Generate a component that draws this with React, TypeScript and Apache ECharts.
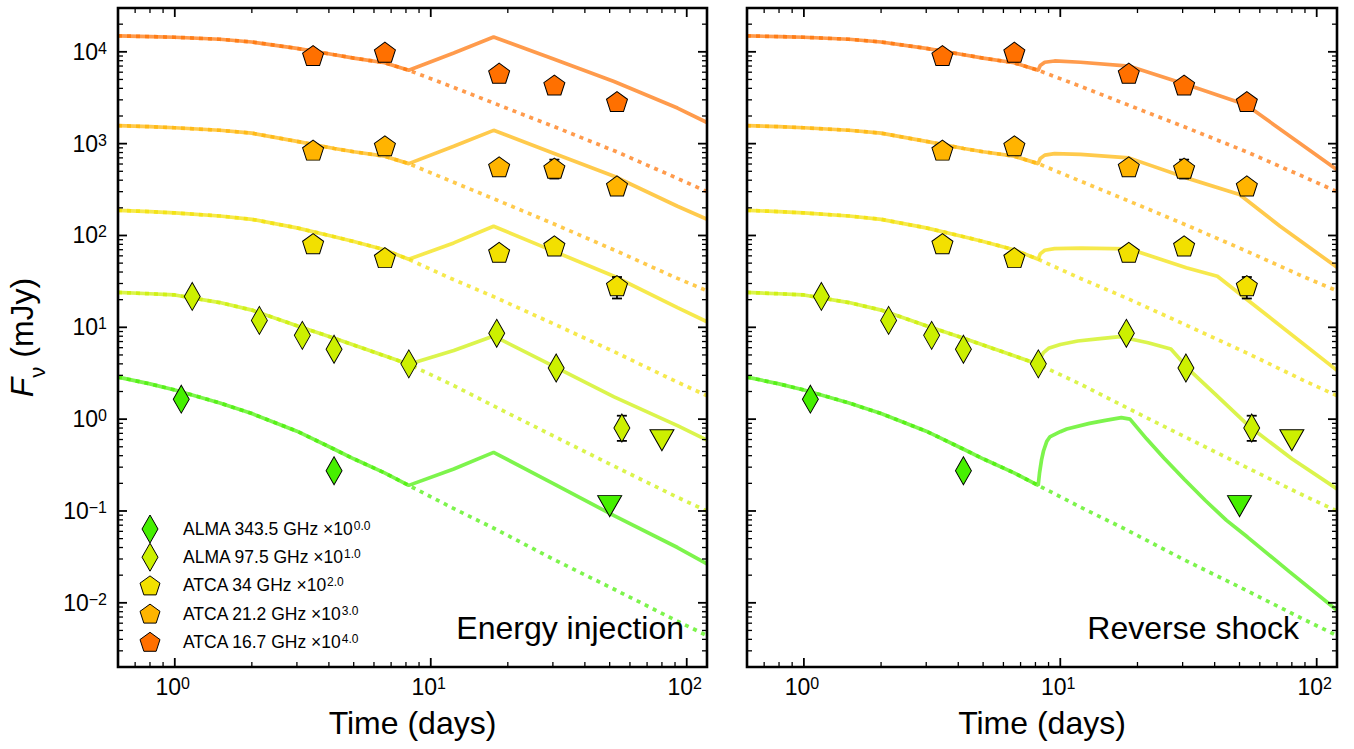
import React, { useEffect, useRef } from 'react';
import * as echarts from 'echarts';

const FONT = '"Liberation Sans", Arial, Helvetica, sans-serif';

// axis ranges
const X_MIN = 0.6;
const X_MAX = 120;
const Y_MIN = 0.002;
const Y_MAX = 30000;

// tick positions and labels
const X_MAJOR_TICKS = [1, 10, 100];
const X_TICK_LABELS = ['0', '1', '2'];
const X_MINOR_TICKS = [0.7, 0.8, 0.9, 2, 3, 4, 5, 6, 7, 8, 9, 20, 30, 40, 50, 60, 70, 80, 90];
const Y_MAJOR_TICKS = [0.01, 0.1, 1, 10, 100, 1000, 10000];
const Y_TICK_LABELS = ['\u22122', '\u22121', '0', '1', '2', '3', '4'];
const Y_MINOR_TICKS = [
  0.003, 0.004, 0.005, 0.006, 0.007, 0.008, 0.009,
  0.02, 0.03, 0.04, 0.05, 0.06, 0.07, 0.08, 0.09,
  0.2, 0.3, 0.4, 0.5, 0.6, 0.7, 0.8, 0.9,
  2, 3, 4, 5, 6, 7, 8, 9,
  20, 30, 40, 50, 60, 70, 80, 90,
  200, 300, 400, 500, 600, 700, 800, 900,
  2000, 3000, 4000, 5000, 6000, 7000, 8000, 9000,
  20000,
];

// bands (legend order)
const BAND_NAMES = ['ALMA 343.5 GHz', 'ALMA 97.5 GHz', 'ATCA 34 GHz', 'ATCA 21.2 GHz', 'ATCA 16.7 GHz'];
const BAND_FACTORS = ['0.0', '1.0', '2.0', '3.0', '4.0'];
const BAND_COLORS = ['#46f000', '#ccf000', '#f2e000', '#ffb400', '#ff7000'];
const BAND_SHAPES = ['diamond', 'diamond', 'pentagon', 'pentagon', 'pentagon'];

// observations [time (days), scaled flux (mJy)]
const OBS_343 = [[1.06, 1.65], [4.19, 0.274]];
const OBS_97 = [[1.17, 21.7], [2.14, 11.9], [3.15, 8.17], [4.19, 5.77], [8.21, 4.0], [18.1, 8.6], [30.9, 3.6], [55.8, 0.80]];
const OBS_34 = [[3.47, 81.5], [6.62, 57.4], [18.5, 65.5], [30.4, 77], [53.4, 28.4]];
const OBS_21 = [[3.47, 850], [6.62, 948], [18.5, 560], [30.4, 540], [53.4, 346]];
const OBS_16 = [[3.47, 9100], [6.62, 9900], [18.5, 5850], [30.4, 4350], [53.4, 2870]];
const LIMIT_343 = [[50, 0.113]];
const LIMIT_97 = [[80, 0.59]];
// error bars [time, flux, low, high]
const ERRORS = [[30.4, 540, 417, 670], [53.4, 28.4, 20.6, 35.3], [55.8, 0.80, 0.58, 1.09]];

// baseline model, early part (shared by both panels)
const EARLY_T = [0.6, 0.8, 1, 1.5, 2, 3, 4.2, 5, 6.6, 8.2];
const EARLY_343 = [2.87, 2.42, 2.08, 1.5, 1.15, 0.74, 0.47, 0.37, 0.26, 0.19];
const EARLY_97 = [24, 23.2, 22.5, 18.6, 15.4, 10.4, 7.6, 6.4, 4.9, 3.96];
const EARLY_34 = [188, 182, 176, 163, 150, 121, 97, 86, 70, 55];
const EARLY_21 = [1570, 1530, 1490, 1400, 1300, 1060, 885, 817, 730, 606];
const EARLY_16 = [14900, 14650, 14400, 13700, 12800, 10900, 9300, 8550, 7600, 6300];

// baseline model, late continuation (dotted)
const LATE_T = [8.2, 12, 18, 30, 53, 90, 120];
const LATE_343 = [0.19, 0.11, 0.063, 0.03, 0.0137, 0.0065, 0.0044];
const LATE_97 = [3.96, 2.4, 1.35, 0.66, 0.3, 0.145, 0.1];
const LATE_34 = [55, 34, 21, 11, 5.3, 2.6, 1.8];
const LATE_21 = [606, 390, 245, 135, 68, 35, 25];
const LATE_16 = [6300, 4200, 2700, 1550, 820, 430, 300];

// energy injection model (left panel, solid)
const INJ_T = [8.2, 12.3, 17.6, 30, 52, 92, 120];
const INJ_343 = [0.19, 0.287, 0.435, 0.2, 0.089, 0.04, 0.0266];
const INJ_97 = [3.96, 5.6, 8.05, 3.8, 1.75, 0.85, 0.59];
const INJ_34 = [55, 83, 126, 68, 36, 16.4, 11.5];
const INJ_21 = [606, 935, 1396, 792, 442, 208, 150];
const INJ_16 = [6300, 9700, 14500, 8400, 4750, 2440, 1700];

// reverse shock model (right panel, solid) [time, flux]
const RS_343 = [[8.2, 0.19], [8.3, 0.26], [8.45, 0.36], [8.6, 0.45], [8.85, 0.57], [9.1, 0.64], [10, 0.73], [10.6, 0.78], [13, 0.9], [15, 0.97], [17.3, 1.04], [18.7, 1.0], [21.7, 0.61], [25.3, 0.38], [30.5, 0.22], [36.8, 0.13], [44.5, 0.079], [53.7, 0.052], [78, 0.022], [120, 0.0083]];
const RS_97 = [[8.2, 3.96], [8.35, 4.6], [8.6, 5.3], [9, 5.9], [10, 6.5], [11.7, 7.1], [14, 7.5], [17.1, 7.9], [22, 6.8], [27, 5.8], [32, 3.4], [40, 1.9], [55, 0.82], [80, 0.37], [120, 0.174]];
const RS_34 = [[8.2, 55], [8.35, 63], [8.7, 69], [9.5, 72], [12, 73], [18.5, 71.6], [31, 44.6], [41, 36], [53, 20.5], [120, 3.4]];
const RS_21 = [[8.2, 606], [8.35, 690], [8.7, 750], [9.5, 780], [12, 765], [18.5, 700], [31, 424], [50, 279], [72, 126], [120, 45]];
const RS_16 = [[8.2, 6300], [8.35, 7100], [8.7, 7700], [9.5, 7950], [12, 7700], [18.5, 7000], [31, 4400], [53, 2650], [120, 520]];

const PANEL_TITLES = ['Energy injection', 'Reverse shock'];
const X_NAME = 'Time (days)';

const PENTAGON = 'path://M0,-1L0.951,-0.309L0.588,0.809L-0.588,0.809L-0.951,-0.309Z';

const OBS = [OBS_343, OBS_97, OBS_34, OBS_21, OBS_16];
const EARLY = [EARLY_343, EARLY_97, EARLY_34, EARLY_21, EARLY_16];
const LATE = [LATE_343, LATE_97, LATE_34, LATE_21, LATE_16];
const INJ = [INJ_343, INJ_97, INJ_34, INJ_21, INJ_16];
const RS = [RS_343, RS_97, RS_34, RS_21, RS_16];

const pairs = (ts: number[], vs: number[]) => ts.map((t, k) => [t, vs[k]]);

const TICK_RICH = {
  b: { fontSize: 23, fontFamily: FONT, fill: '#000' },
  s: { fontSize: 16, fontFamily: FONT, fill: '#000', verticalAlign: 'top' },
};

function frameSeries(g: number) {
  return {
    type: 'custom',
    xAxisIndex: g,
    yAxisIndex: g,
    data: [[1, 1]],
    encode: { x: 0, y: 1 },
    clip: false,
    silent: true,
    z: 10,
    renderItem: (params: any, api: any) => {
      const cs = params.coordSys;
      const L = cs.x, T = cs.y, R = cs.x + cs.width, B = cs.y + cs.height;
      const ch: any[] = [];
      const tick = (x1: number, y1: number, x2: number, y2: number, w: number) =>
        ch.push({ type: 'line', shape: { x1, y1, x2, y2 }, style: { stroke: '#000', lineWidth: w } });
      X_MAJOR_TICKS.forEach((v, k) => {
        const px = api.coord([v, 1])[0];
        tick(px, B, px, B - 9, 1.8);
        tick(px, T, px, T + 9, 1.8);
        ch.push({
          type: 'text', x: px - 2, y: B + 8,
          style: { text: `{b|10}{s|${X_TICK_LABELS[k]}}`, rich: TICK_RICH, align: 'center', verticalAlign: 'top', fill: '#000' },
        });
      });
      X_MINOR_TICKS.forEach((v) => {
        const px = api.coord([v, 1])[0];
        tick(px, B, px, B - 5, 1.3);
        tick(px, T, px, T + 5, 1.3);
      });
      Y_MAJOR_TICKS.forEach((v, k) => {
        const py = api.coord([1, v])[1];
        tick(L, py, L + 9, py, 1.8);
        tick(R, py, R - 9, py, 1.8);
        if (g === 0) {
          ch.push({
            type: 'text', x: L - 11, y: py,
            style: { text: `{b|10}{s|${Y_TICK_LABELS[k]}}`, rich: TICK_RICH, align: 'right', verticalAlign: 'middle', fill: '#000' },
          });
        }
      });
      Y_MINOR_TICKS.forEach((v) => {
        const py = api.coord([1, v])[1];
        tick(L, py, L + 5, py, 1.3);
        tick(R, py, R - 5, py, 1.3);
      });
      ch.push({
        type: 'rect',
        shape: { x: L, y: T, width: cs.width, height: cs.height },
        style: { fill: 'none', stroke: '#000', lineWidth: 2.6 },
      });
      return { type: 'group', children: ch };
    },
  };
}

function panelSeries(g: number, mode: 'inj' | 'rs') {
  const s: any[] = [];
  for (let i = 0; i < 5; i++) {
    const early = pairs(EARLY_T, EARLY[i]);
    const dotted = early.concat(pairs(LATE_T, LATE[i]).slice(1));
    const tail = mode === 'inj' ? pairs(INJ_T, INJ[i]) : RS[i];
    const solid = early.concat(tail.slice(1));
    s.push({
      type: 'line', xAxisIndex: g, yAxisIndex: g, data: solid, symbol: 'none', silent: true, z: 2,
      lineStyle: { color: BAND_COLORS[i], width: 3.7, opacity: 0.7 },
    });
    s.push({
      type: 'line', xAxisIndex: g, yAxisIndex: g, data: dotted, symbol: 'none', silent: true, z: 2,
      lineStyle: { color: BAND_COLORS[i], width: 3.7, opacity: 0.7, type: [4, 5], cap: 'butt' },
    });
  }
  s.push({
    type: 'custom', xAxisIndex: g, yAxisIndex: g, data: ERRORS, encode: { x: 0, y: 1 }, silent: true, z: 3,
    renderItem: (params: any, api: any) => {
      const t = api.value(0);
      const p1 = api.coord([t, api.value(2)]);
      const p2 = api.coord([t, api.value(3)]);
      const st = { stroke: '#000', lineWidth: 1.8 };
      return {
        type: 'group',
        children: [
          { type: 'line', shape: { x1: p1[0], y1: p1[1], x2: p2[0], y2: p2[1] }, style: st },
          { type: 'line', shape: { x1: p1[0] - 5, y1: p1[1], x2: p1[0] + 5, y2: p1[1] }, style: st },
          { type: 'line', shape: { x1: p2[0] - 5, y1: p2[1], x2: p2[0] + 5, y2: p2[1] }, style: st },
        ],
      };
    },
  });
  for (let i = 0; i < 5; i++) {
    const diamond = BAND_SHAPES[i] === 'diamond';
    s.push({
      type: 'scatter', xAxisIndex: g, yAxisIndex: g, data: OBS[i], silent: true, z: 4,
      symbol: diamond ? 'diamond' : PENTAGON,
      symbolSize: diamond ? [16, 28] : [21, 20],
      itemStyle: { color: BAND_COLORS[i], borderColor: '#000', borderWidth: 1, opacity: 1 },
    });
  }
  [[LIMIT_343, 0], [LIMIT_97, 1]].forEach(([d, i]: any) => {
    s.push({
      type: 'scatter', xAxisIndex: g, yAxisIndex: g, data: d, silent: true, z: 4,
      symbol: 'triangle', symbolRotate: 180, symbolSize: [24, 21],
      itemStyle: { color: BAND_COLORS[i], borderColor: '#000', borderWidth: 1, opacity: 1 },
    });
  });
  s.push(frameSeries(g));
  return s;
}

function legendGraphics() {
  const els: any[] = [];
  const mx = 150, tx = 183, y0 = 529, dy = 28.2;
  for (let i = 0; i < BAND_NAMES.length; i++) {
    const y = y0 + dy * i;
    let pts: number[][];
    if (BAND_SHAPES[i] === 'diamond') {
      pts = [[mx - 8, y], [mx, y - 14], [mx + 8, y], [mx, y + 14]];
    } else {
      pts = [0, 1, 2, 3, 4].map((k) => {
        const a = -Math.PI / 2 + (k * 2 * Math.PI) / 5;
        return [mx + 10.5 * Math.cos(a), y + 1 + 10.5 * Math.sin(a)];
      });
    }
    els.push({
      type: 'polygon', z: 20, silent: true,
      shape: { points: pts },
      style: { fill: BAND_COLORS[i], stroke: '#000', lineWidth: 1 },
    });
    els.push({
      type: 'text', z: 20, silent: true, x: tx, y,
      style: {
        text: `{a|${BAND_NAMES[i]} \u00d710}{s|${BAND_FACTORS[i]}}`,
        verticalAlign: 'middle',
        fill: '#000',
        rich: {
          a: { fontSize: 17.5, fontFamily: FONT, fill: '#000' },
          s: { fontSize: 12, fontFamily: FONT, fill: '#000', verticalAlign: 'top' },
        },
      },
    });
  }
  return els;
}

export default function App() {
  const ref = useRef<HTMLDivElement>(null);
  useEffect(() => {
    if (!ref.current) return;
    const chart = echarts.init(ref.current, undefined, { renderer: 'svg' });
    const grids = [
      { left: 118, top: 8, width: 589, height: 659 },
      { left: 747, top: 8, width: 590, height: 659 },
    ];
    const xAxes = grids.map((_, g) => ({
      type: 'log', logBase: 10, gridIndex: g, min: X_MIN, max: X_MAX,
      axisLine: { show: false }, axisTick: { show: false }, splitLine: { show: false }, minorTick: { show: false },
      axisLabel: { show: false },
      name: X_NAME, nameLocation: 'middle', nameGap: 40,
      nameTextStyle: { fontSize: 32, fontFamily: FONT, color: '#000' },
    }));
    const yAxes = grids.map((_, g) => ({
      type: 'log', logBase: 10, gridIndex: g, min: Y_MIN, max: Y_MAX,
      axisLine: { show: false }, axisTick: { show: false }, splitLine: { show: false }, minorTick: { show: false },
      axisLabel: { show: false },
      name: g === 0 ? '{f|F}{n|\u03bd}{r| (mJy)}' : '',
      nameLocation: 'middle', nameGap: 70, nameRotate: 90,
      nameTextStyle: {
        fontSize: 32, fontFamily: FONT, color: '#000',
        rich: {
          f: { fontSize: 32, fontFamily: FONT, fontStyle: 'italic', color: '#000', lineHeight: 36, verticalAlign: 'top' },
          n: { fontSize: 22, fontFamily: FONT, color: '#000', lineHeight: 42, verticalAlign: 'bottom' },
          r: { fontSize: 32, fontFamily: FONT, color: '#000', lineHeight: 36, verticalAlign: 'top' },
        },
      },
    }));
    const option: any = {
      animation: false,
      backgroundColor: '#fff',
      grid: grids,
      xAxis: xAxes,
      yAxis: yAxes,
      series: [...panelSeries(0, 'inj'), ...panelSeries(1, 'rs')],
      graphic: [
        ...legendGraphics(),
        {
          type: 'text', z: 20, silent: true, x: 684, y: 628,
          style: { text: PANEL_TITLES[0], fontSize: 32, fontFamily: FONT, fill: '#000', align: 'right', verticalAlign: 'middle' },
        },
        {
          type: 'text', z: 20, silent: true, x: 1299, y: 628,
          style: { text: PANEL_TITLES[1], fontSize: 32, fontFamily: FONT, fill: '#000', align: 'right', verticalAlign: 'middle' },
        },
      ],
    };
    chart.setOption(option);
    return () => chart.dispose();
  }, []);
  return <div ref={ref} style={{ position: 'absolute', left: 0, top: 0, width: 1354, height: 749 }} />;
}
